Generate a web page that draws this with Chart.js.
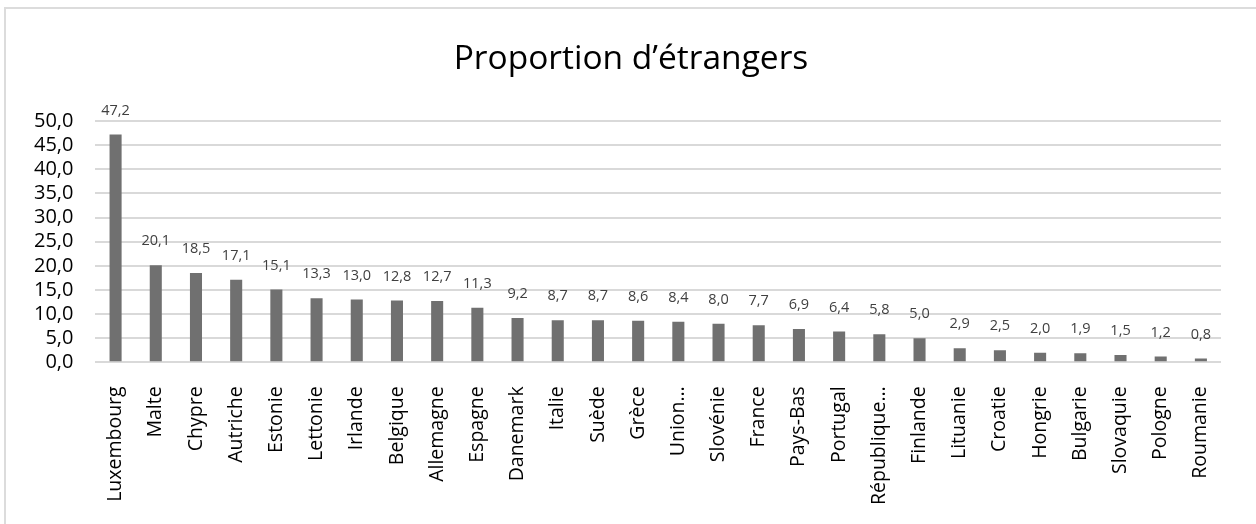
<!DOCTYPE html>
<html>
<head>
<meta charset="utf-8">
<script src="https://cdn.jsdelivr.net/npm/chart.js@4/dist/chart.umd.min.js"></script>
<style>
  html, body { margin: 0; padding: 0; background: #fff; }
  #frame { position: absolute; left: 4px; top: 7px; width: 1400px; height: 700px;
           border-left: 2px solid #dcdcdc; border-top: 2px solid #dcdcdc; }
  #wrap { position: absolute; left: 0; top: 0; width: 1256px; height: 524px; }
</style>
</head>
<body>
<div id="frame"></div>
<div id="wrap"><canvas id="chart"></canvas></div>
<script>
// données
const pays = ['Luxembourg', 'Malte', 'Chypre', 'Autriche', 'Estonie', 'Lettonie', 'Irlande',
  'Belgique', 'Allemagne', 'Espagne', 'Danemark', 'Italie', 'Suède', 'Grèce',
  'Union européenne', 'Slovénie', 'France', 'Pays-Bas', 'Portugal', 'République tchèque',
  'Finlande', 'Lituanie', 'Croatie', 'Hongrie', 'Bulgarie', 'Slovaquie', 'Pologne', 'Roumanie'];
const proportion = [47.2, 20.1, 18.5, 17.1, 15.1, 13.3, 13.0, 12.8, 12.7, 11.3, 9.2, 8.7, 8.7, 8.6,
  8.4, 8.0, 7.7, 6.9, 6.4, 5.8, 5.0, 2.9, 2.5, 2.0, 1.9, 1.5, 1.2, 0.8];
const titre = 'Proportion d\u2019étrangers';

const virgule = v => v.toFixed(1).replace('.', ',');

// titre (centré sur le cadre, pas sur la zone du graphique) + étiquettes de valeur
const etiquettes = {
  id: 'etiquettes',
  afterDatasetsDraw(chart) {
    const ctx = chart.ctx;
    const meta = chart.getDatasetMeta(0);
    ctx.save();
    ctx.textAlign = 'center';
    ctx.textBaseline = 'middle';
    ctx.font = '33.5px "Open Sans"';
    ctx.fillStyle = '#000';
    ctx.fillText(titre, 631, 59);
    ctx.font = '14.5px "Open Sans"';
    ctx.fillStyle = '#404040';
    meta.data.forEach((bar, i) => {
      ctx.fillText(virgule(proportion[i]), bar.x, bar.y - 24);
    });
    ctx.restore();
  }
};

new Chart(document.getElementById('chart'), {
  type: 'bar',
  data: {
    labels: pays,
    datasets: [{
      data: proportion,
      backgroundColor: '#707070',
      barPercentage: 0.3,
      categoryPercentage: 1
    }]
  },
  options: {
    responsive: true,
    maintainAspectRatio: false,
    animation: false,
    layout: { padding: { left: 12, right: 35, top: 121, bottom: 3 } },
    plugins: {
      legend: { display: false },
      tooltip: { enabled: false },
      title: { display: false }
    },
    scales: {
      x: {
        grid: { display: false },
        border: { display: false },
        ticks: {
          color: '#000',
          font: { family: 'Open Sans', size: 19.5 },
          minRotation: 90,
          maxRotation: 90,
          autoSkip: false,
          padding: 16,
          callback: function (v, i) {
            const l = this.getLabelForValue(v);
            return l.length > 12 ? l.split(' ')[0] + '\u2026' : l;
          }
        }
      },
      y: {
        min: 0,
        max: 50,
        grid: { color: '#d9d9d9', lineWidth: 2, drawTicks: false },
        border: { display: false },
        ticks: {
          stepSize: 5,
          autoSkip: false,
          color: '#000',
          font: { family: 'Open Sans', size: 20 },
          padding: 22,
          callback: v => virgule(v)
        }
      }
    }
  },
  plugins: [etiquettes]
});
</script>
</body>
</html>
